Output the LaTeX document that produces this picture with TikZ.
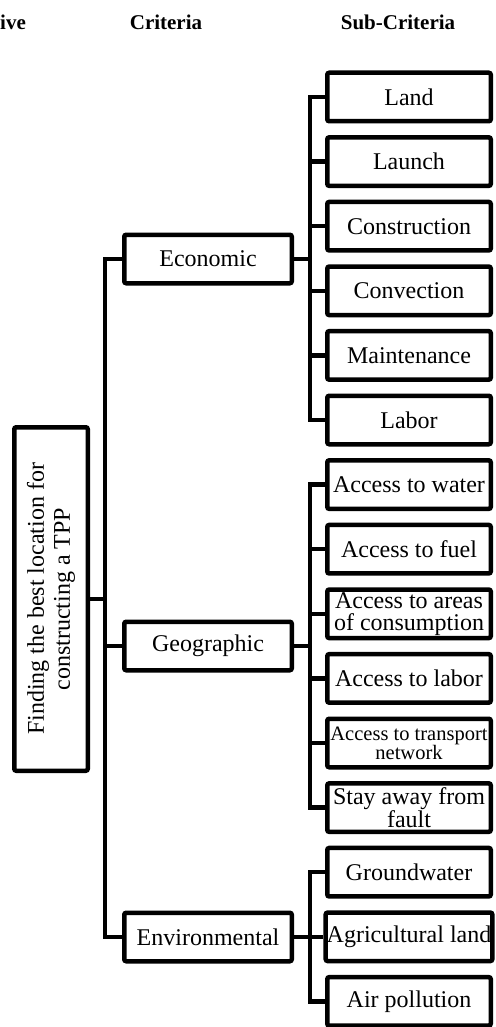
\documentclass[tikz,border=0pt]{standalone}
\usepackage{fontspec}
\setmainfont{Liberation Serif}
\usepackage{xcolor}
\usepackage{tikz}
\usetikzlibrary{calc}
\definecolor{ink}{HTML}{000000}
\definecolor{paper}{HTML}{FFFFFF}
\tikzset{
  box/.style={draw=ink, fill=paper, line width=4.5pt, rounded corners=2pt, align=center, inner sep=1pt, font=\fontsize{24}{22}\selectfont},
  crit/.style={box, minimum width=167.5pt, minimum height=48.5pt},
  sub/.style={box, minimum width=163.5pt, minimum height=48.5pt},
  subs/.style={sub, font=\fontsize{20.5}{19}\selectfont},
  conn/.style={draw=ink, line width=4.5pt},
  head/.style={text=ink, font=\fontsize{21}{24}\selectfont\bfseries, anchor=base, inner sep=0pt},
}

\begin{document}
\begin{tikzpicture}[x=1pt, y=-1pt]
  \fill[paper] (0,0) rectangle (495,1027);
  \useasboundingbox (0,0) rectangle (495,1027);
  % headings
  \node[head, anchor=base west] (hobj) at (0,30) {ive};
  \node[head] (hcrit) at (166,30) {Criteria};
  \node[head] (hsub) at (398,30) {Sub-Criteria};
  % objective
  \node[box, rotate=90, minimum width=343.5pt, minimum height=73.5pt, font=\fontsize{24}{26}\selectfont] (goal) at (51,599) {Finding the best location for\\constructing a TPP};
  % criteria
  \node[crit] (eco) at (208,259) {Economic};
  \node[crit] (geo) at (208,646) {Geographic};
  \node[crit] (env) at (208,937) {Environmental};
  % sub-criteria
  \node[sub] (land) at (409,97) {Land};
  \node[sub] (launch) at (409,161.6) {Launch};
  \node[sub] (constr) at (409,226.2) {Construction};
  \node[sub] (convec) at (409,290.8) {Convection};
  \node[sub] (maint) at (409,355.4) {Maintenance};
  \node[sub] (labor) at (409,420) {Labor};
  \node[sub] (water) at (409,484.6) {Access to water};
  \node[sub] (fuel) at (409,549.2) {Access to fuel};
  \node[sub] (areas) at (409,613.8) {Access to areas\\of consumption};
  \node[sub] (alabor) at (409,678.4) {Access to labor};
  \node[subs] (transp) at (409,743) {Access to transport\\network};
  \node[sub] (fault) at (409,807.6) {Stay away from\\fault};
  \node[sub] (ground) at (409,872.2) {Groundwater};
  \node[sub] (agri) at (409,936.8) {Agricultural land};
  \node[sub] (air) at (409,1001.4) {Air pollution};
  % tree lines
  \coordinate (sp) at (105,0);
  \coordinate (br) at (310,0);
  \draw[conn] (goal.south) -- (goal.south -| sp);
  \draw[conn] (eco.west) -- (eco.west -| sp) -- (env.west -| sp) -- (env.west);
  \draw[conn] (geo.west) -- (geo.west -| sp);
  % economic
  \draw[conn] (eco.east) -- (eco.east -| br);
  \draw[conn] (land.west) -- (land.west -| br) -- (labor.west -| br) -- (labor.west);
  \draw[conn] (launch.west) -- (launch.west -| br);
  \draw[conn] (constr.west) -- (constr.west -| br);
  \draw[conn] (convec.west) -- (convec.west -| br);
  \draw[conn] (maint.west) -- (maint.west -| br);
  % geographic
  \draw[conn] (geo.east) -- (geo.east -| br);
  \draw[conn] (water.west) -- (water.west -| br) -- (fault.west -| br) -- (fault.west);
  \draw[conn] (fuel.west) -- (fuel.west -| br);
  \draw[conn] (areas.west) -- (areas.west -| br);
  \draw[conn] (alabor.west) -- (alabor.west -| br);
  \draw[conn] (transp.west) -- (transp.west -| br);
  % environmental
  \draw[conn] (env.east) -- (env.east -| br);
  \draw[conn] (ground.west) -- (ground.west -| br) -- (air.west -| br) -- (air.west);
  \draw[conn] (agri.west) -- (agri.west -| br);
\end{tikzpicture}
\end{document}
